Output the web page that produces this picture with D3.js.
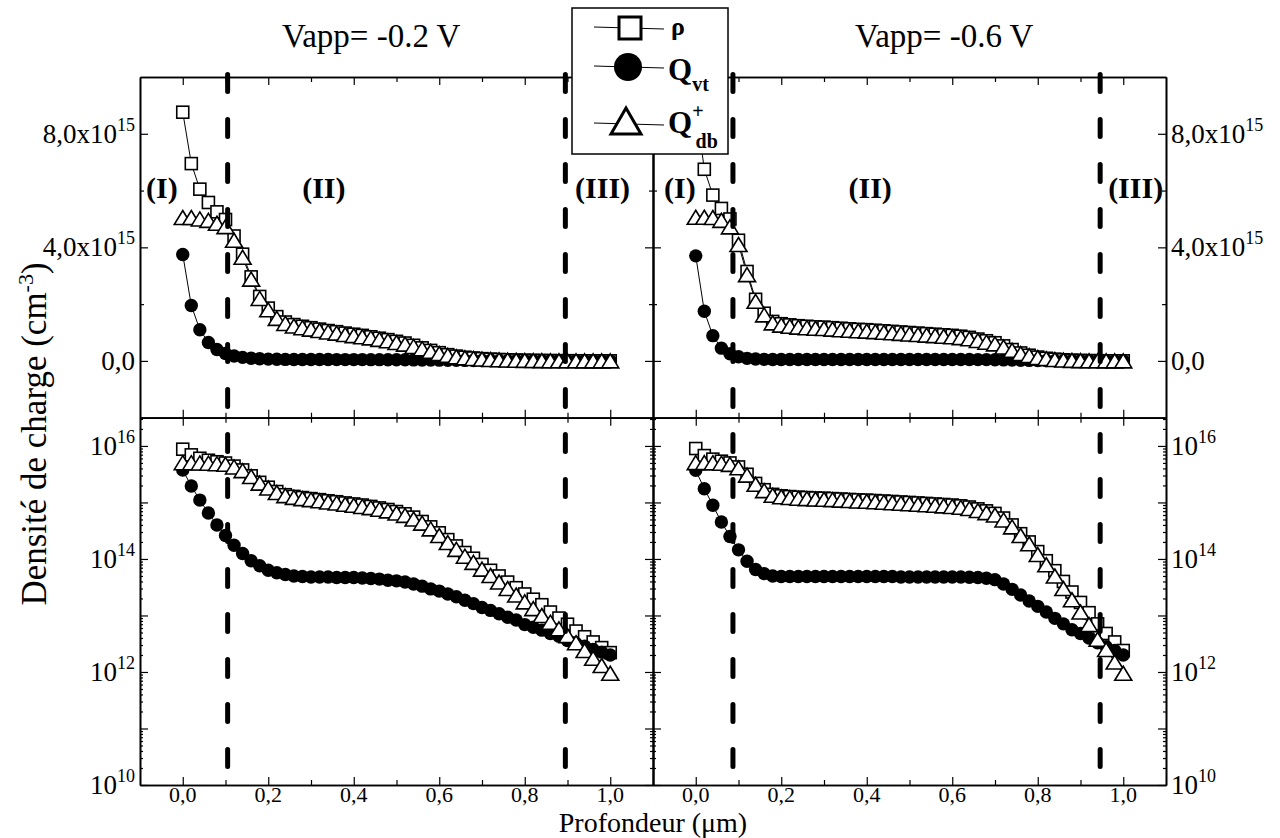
<!DOCTYPE html>
<html><head><meta charset="utf-8">
<script src="https://cdn.jsdelivr.net/npm/d3@7"></script>
<style>
body{margin:0;background:#fff}
svg{display:block}
</style>
</head><body>
<svg id="c" width="1280" height="838" font-family="Liberation Serif, Times New Roman, serif"></svg>
<script>
// ---------- data ----------
const depth = [0,0.02,0.04,0.06,0.08,0.10,0.12,0.14,0.16,0.18,0.20,0.22,0.24,0.26,0.28,0.30,0.32,0.34,0.36,0.38,0.40,0.42,0.44,0.46,0.48,0.50,0.52,0.54,0.56,0.58,0.60,0.62,0.64,0.66,0.68,0.70,0.72,0.74,0.76,0.78,0.80,0.82,0.84,0.86,0.88,0.90,0.92,0.94,0.96,0.98,1.00];

// Vapp = -0.2 V
const rhoA = [8.76e15,6.95e15,6.05e15,5.58e15,5.25e15,4.98e15,4.4e15,3.76e15,2.96e15,2.27e15,1.86e15,1.56e15,1.37e15,1.28e15,1.22e15,1.17e15,1.12e15,1.07e15,1.03e15,9.8e14,9.4e14,9.0e14,8.5e14,8.0e14,7.5e14,6.9e14,6.3e14,5.5e14,4.6e14,3.7e14,2.9e14,2.2e14,1.7e14,1.3e14,1.03e14,8.0e13,6.3e13,5.0e13,3.9e13,3.1e13,2.4e13,1.94e13,1.55e13,1.15e13,9.0e12,7.0e12,5.3e12,4.2e12,3.4e12,2.7e12,2.2e12];
const qvtA = [3.75e15,1.95e15,1.1e15,6.5e14,4.0e14,2.6e14,1.75e14,1.25e14,9.3e13,7.6e13,6.3e13,5.7e13,5.3e13,5.0e13,4.9e13,4.8e13,4.8e13,4.8e13,4.7e13,4.7e13,4.7e13,4.6e13,4.5e13,4.4e13,4.2e13,4.1e13,3.9e13,3.6e13,3.3e13,2.95e13,2.7e13,2.4e13,2.15e13,1.86e13,1.62e13,1.38e13,1.23e13,1.07e13,9.3e12,8.3e12,6.9e12,6.2e12,5.5e12,4.8e12,4.3e12,3.6e12,3.2e12,2.85e12,2.5e12,2.25e12,2.0e12];
const qdbA = [5.05e15,5.05e15,5.0e15,4.95e15,4.85e15,4.73e15,4.25e15,3.65e15,2.88e15,2.2e15,1.8e15,1.5e15,1.32e15,1.23e15,1.17e15,1.12e15,1.07e15,1.02e15,9.8e14,9.3e14,8.9e14,8.5e14,8.1e14,7.6e14,7.1e14,6.5e14,5.9e14,5.1e14,4.3e14,3.4e14,2.6e14,1.95e14,1.48e14,1.12e14,8.7e13,6.6e13,5.1e13,3.9e13,3.0e13,2.3e13,1.74e13,1.32e13,1.0e13,7.6e12,5.8e12,4.4e12,3.3e12,2.4e12,1.75e12,1.3e12,9.5e11];

// Vapp = -0.6 V
const rhoB = [9.0e15,6.75e15,5.84e15,5.37e15,5.0e15,4.25e15,3.15e15,2.17e15,1.68e15,1.39e15,1.31e15,1.27e15,1.24e15,1.22e15,1.2e15,1.19e15,1.17e15,1.15e15,1.13e15,1.11e15,1.1e15,1.08e15,1.06e15,1.04e15,1.02e15,1.0e15,9.8e14,9.6e14,9.4e14,9.2e14,9.0e14,8.7e14,8.3e14,7.7e14,7.1e14,6.4e14,5.3e14,4.0e14,2.8e14,2.0e14,1.35e14,9.3e13,6.2e13,4.0e13,2.6e13,1.7e13,1.12e13,7.1e12,4.8e12,3.4e12,2.4e12];
const qvtB = [3.7e15,1.75e15,8.9e14,4.5e14,2.5e14,1.45e14,9.1e13,6.5e13,5.5e13,5.0e13,4.9e13,4.9e13,4.9e13,4.9e13,4.9e13,4.9e13,4.9e13,4.9e13,4.9e13,4.9e13,4.9e13,4.9e13,4.9e13,4.9e13,4.8e13,4.8e13,4.8e13,4.8e13,4.8e13,4.8e13,4.8e13,4.8e13,4.75e13,4.7e13,4.55e13,4.3e13,3.6e13,2.9e13,2.3e13,1.8e13,1.45e13,1.15e13,8.9e12,7.1e12,5.6e12,4.8e12,4.0e12,3.3e12,2.8e12,2.4e12,2.0e12];
const qdbB = [5.06e15,5.06e15,5.05e15,4.95e15,4.72e15,4.1e15,3.04e15,2.1e15,1.62e15,1.34e15,1.26e15,1.22e15,1.19e15,1.17e15,1.15e15,1.14e15,1.12e15,1.10e15,1.08e15,1.06e15,1.05e15,1.03e15,1.01e15,9.9e14,9.7e14,9.5e14,9.3e14,9.1e14,8.9e14,8.7e14,8.5e14,8.2e14,7.8e14,7.2e14,6.6e14,6.0e14,4.9e14,3.7e14,2.6e14,1.86e14,1.2e14,7.9e13,5.0e13,3.0e13,1.9e13,1.15e13,6.9e12,3.8e12,2.5e12,1.5e12,9.5e11];

const titles = ["Vapp= -0.2 V", "Vapp= -0.6 V"];
const regionBounds = [[0.105, 0.895], [0.087, 0.946]];     // dashed lines (µm)
const regionNames = ["(I)", "(II)", "(III)"];
const regionLabelX = [[-0.049, 0.33, 0.982], [-0.037, 0.408, 1.029]];
const regionLabelY = 6.1e15;

const xTicks = [0, 0.2, 0.4, 0.6, 0.8, 1.0];
const xTickLabels = ["0,0", "0,2", "0,4", "0,6", "0,8", "1,0"];
const xMinorTicks = [0.1, 0.3, 0.5, 0.7, 0.9];
const linTicks = [0, 4e15, 8e15];
const linTickLabels = [["0,0", ""], ["4,0x10", "15"], ["8,0x10", "15"]];
const linMinorTicks = [2e15, 6e15];
const logTicks = [1e10, 1e12, 1e14, 1e16];
const logTickExp = ["10", "12", "14", "16"];
const legendNames = ["\u03C1", "Q", "Q"];

// ---------- layout ----------
const svg = d3.select("#c");
const panelX = [[140, 653], [653, 1166]];
const topY = [77, 417.7], botY = [417.7, 785];
const logMax = 3.16e16;

const panels = [
  {rho: rhoA, qvt: qvtA, qdb: qdbA},
  {rho: rhoB, qvt: qvtB, qdb: qdbB}
];

function triPath(w, h) {
  return `M0,${-h/2} L${w/2},${h/2} L${-w/2},${h/2} Z`;
}

const logMinor = [];
for (let e = 10; e < 17; e++) for (let k = 2; k <= 9; k++) {
  const v = k * Math.pow(10, e);
  if (v < logMax) logMinor.push(v);
}
const logDecades = [1e11, 1e13, 1e15];

panels.forEach((p, i) => {
  const x = d3.scaleLinear().domain([-0.1, 1.1]).range(panelX[i]);
  const yL = d3.scaleLinear().domain([-2e15, 1e16]).range([topY[1], topY[0]]);
  const yG = d3.scaleLog().domain([1e10, logMax]).range([botY[1], botY[0]]);

  const g = svg.append("g");

  function addAxis(axis, tx, ty) {
    const a = g.append("g").attr("transform", `translate(${tx},${ty})`).call(axis);
    a.selectAll("text").remove();
    a.select(".domain").attr("stroke", "#000").attr("stroke-width", 1.6);
    a.selectAll(".tick line").attr("stroke", "#000").attr("stroke-width", 1.2);
    return a;
  }
  [[topY, yL, linTicks, linMinorTicks, 4], [botY, yG, logTicks.concat(logDecades), logMinor, 3]].forEach(([yy, ys, maj, mnr, ml]) => {
    addAxis(d3.axisBottom(x).tickValues(xTicks).tickSize(-8).tickSizeOuter(0), 0, yy[1]);
    addAxis(d3.axisBottom(x).tickValues(xMinorTicks).tickSize(-5).tickSizeOuter(0), 0, yy[1]);
    addAxis(d3.axisTop(x).tickValues(xTicks).tickSize(-8).tickSizeOuter(0), 0, yy[0]);
    addAxis(d3.axisTop(x).tickValues(xMinorTicks).tickSize(-5).tickSizeOuter(0), 0, yy[0]);
    addAxis(d3.axisLeft(ys).tickValues(maj).tickSize(-8).tickSizeOuter(0), panelX[i][0], 0);
    addAxis(d3.axisLeft(ys).tickValues(mnr).tickSize(-ml).tickSizeOuter(0), panelX[i][0], 0);
    addAxis(d3.axisRight(ys).tickValues(maj).tickSize(-8).tickSizeOuter(0), panelX[i][1], 0);
    addAxis(d3.axisRight(ys).tickValues(mnr).tickSize(-ml).tickSizeOuter(0), panelX[i][1], 0);
  });

  // x tick labels
  g.selectAll(".xl").data(xTicks).enter().append("text")
    .attr("x", d => x(d)).attr("y", 802).attr("text-anchor", "middle")
    .attr("font-size", 22).text((d, k) => xTickLabels[k]);

  // y tick labels
  const outer = i === 0 ? panelX[0][0] - 5 : panelX[1][1] + 5;
  const anchor = i === 0 ? "end" : "start";
  linTicks.forEach((v, k) => {
    const t = g.append("text").attr("x", outer).attr("y", yL(v) + 9)
      .attr("text-anchor", anchor).attr("font-size", 27);
    t.append("tspan").text(linTickLabels[k][0]);
    if (linTickLabels[k][1]) t.append("tspan").attr("font-size", 18).attr("dy", -12).text(linTickLabels[k][1]);
  });
  logTicks.forEach((v, k) => {
    const t = g.append("text").attr("x", outer).attr("y", yG(v) + 9)
      .attr("text-anchor", anchor).attr("font-size", 27);
    t.append("tspan").text("10");
    t.append("tspan").attr("font-size", 18).attr("dy", -12).text(logTickExp[k]);
  });

  // series
  const seriesDraw = (ys) => {
    ["rho", "qvt", "qdb"].forEach(key => {
      const pts = depth.map((d, k) => [x(d), ys(p[key][k])]);
      g.append("path").attr("d", d3.line()(pts)).attr("fill", "none")
        .attr("stroke", "#000").attr("stroke-width", 1);
    });
    g.append("g").selectAll("rect").data(depth).enter().append("rect")
      .attr("x", d => x(d) - 6).attr("y", (d, k) => ys(p.rho[k]) - 6)
      .attr("width", 12).attr("height", 12)
      .attr("fill", "#fff").attr("stroke", "#000").attr("stroke-width", 1.6);
    g.append("g").selectAll("circle").data(depth).enter().append("circle")
      .attr("cx", d => x(d)).attr("cy", (d, k) => ys(p.qvt[k])).attr("r", 6.7)
      .attr("fill", "#000");
    g.append("g").selectAll("path").data(depth).enter().append("path")
      .attr("d", triPath(17, 14))
      .attr("transform", (d, k) => `translate(${x(d)},${ys(p.qdb[k])})`)
      .attr("fill", "#fff").attr("stroke", "#000").attr("stroke-width", 1.6);
  };
  seriesDraw(yL);
  seriesDraw(yG);

  // dashed region boundaries
  regionBounds[i].forEach(b => {
    g.append("line").attr("x1", x(b)).attr("x2", x(b))
      .attr("y1", topY[0] - 2.5).attr("y2", botY[1])
      .attr("stroke", "#000").attr("stroke-width", 5)
      .attr("stroke-dasharray", "17,28").attr("stroke-linecap", "round");
  });

  // region labels
  regionNames.forEach((n, k) => {
    g.append("text").attr("x", x(regionLabelX[i][k])).attr("y", yL(regionLabelY) + 10)
      .attr("text-anchor", "middle").attr("font-size", 30).attr("font-weight", "bold").text(n);
  });
});

// titles
svg.append("text").attr("x", 282).attr("y", 47).attr("font-size", 33).text(titles[0]);
svg.append("text").attr("x", 855).attr("y", 47).attr("font-size", 33).text(titles[1]);

// axis titles
const yt = svg.append("text").attr("transform", "translate(46,434) rotate(-90)")
  .attr("text-anchor", "middle").attr("font-size", 35);
yt.append("tspan").text("Densit\u00e9 de charge (cm");
yt.append("tspan").attr("font-size", 22).attr("dy", -13).text("-3");
yt.append("tspan").attr("dy", 13).text(")");
svg.append("text").attr("x", 653).attr("y", 831.9).attr("text-anchor", "middle")
  .attr("font-size", 28).text("Profondeur (\u03BCm)");

// legend
const lg = svg.append("g");
lg.append("rect").attr("x", 572).attr("y", 8).attr("width", 156).attr("height", 146)
  .attr("fill", "#fff").attr("stroke", "#000").attr("stroke-width", 1.5);
const legY = [28, 67, 124];
legY.forEach(yy => {
  lg.append("line").attr("x1", 594).attr("x2", 664).attr("y1", yy - 1).attr("y2", yy + 1)
    .attr("stroke", "#000").attr("stroke-width", 1);
});
lg.append("rect").attr("x", 619).attr("y", 17).attr("width", 22).attr("height", 22)
  .attr("fill", "#fff").attr("stroke", "#000").attr("stroke-width", 3);
lg.append("circle").attr("cx", 628).attr("cy", 67).attr("r", 14).attr("fill", "#000");
lg.append("path").attr("d", triPath(30, 26)).attr("transform", "translate(626,121)")
  .attr("fill", "#fff").attr("stroke", "#000").attr("stroke-width", 3);
lg.append("text").attr("x", 671).attr("y", 35).attr("font-size", 26).attr("font-weight", "bold").text(legendNames[0]);
const t2 = lg.append("text").attr("x", 668).attr("y", 80).attr("font-size", 31).attr("font-weight", "bold");
t2.append("tspan").text(legendNames[1]);
t2.append("tspan").attr("font-size", 20).attr("dy", 11).text("vt");
const t3 = lg.append("text").attr("x", 668).attr("y", 133).attr("font-size", 31).attr("font-weight", "bold");
t3.append("tspan").text(legendNames[2]);
t3.append("tspan").attr("font-size", 20).attr("dy", -15).text("+");
t3.append("tspan").attr("font-size", 20).attr("dx", -8).attr("dy", 30).text("db");
</script>
</body></html>
